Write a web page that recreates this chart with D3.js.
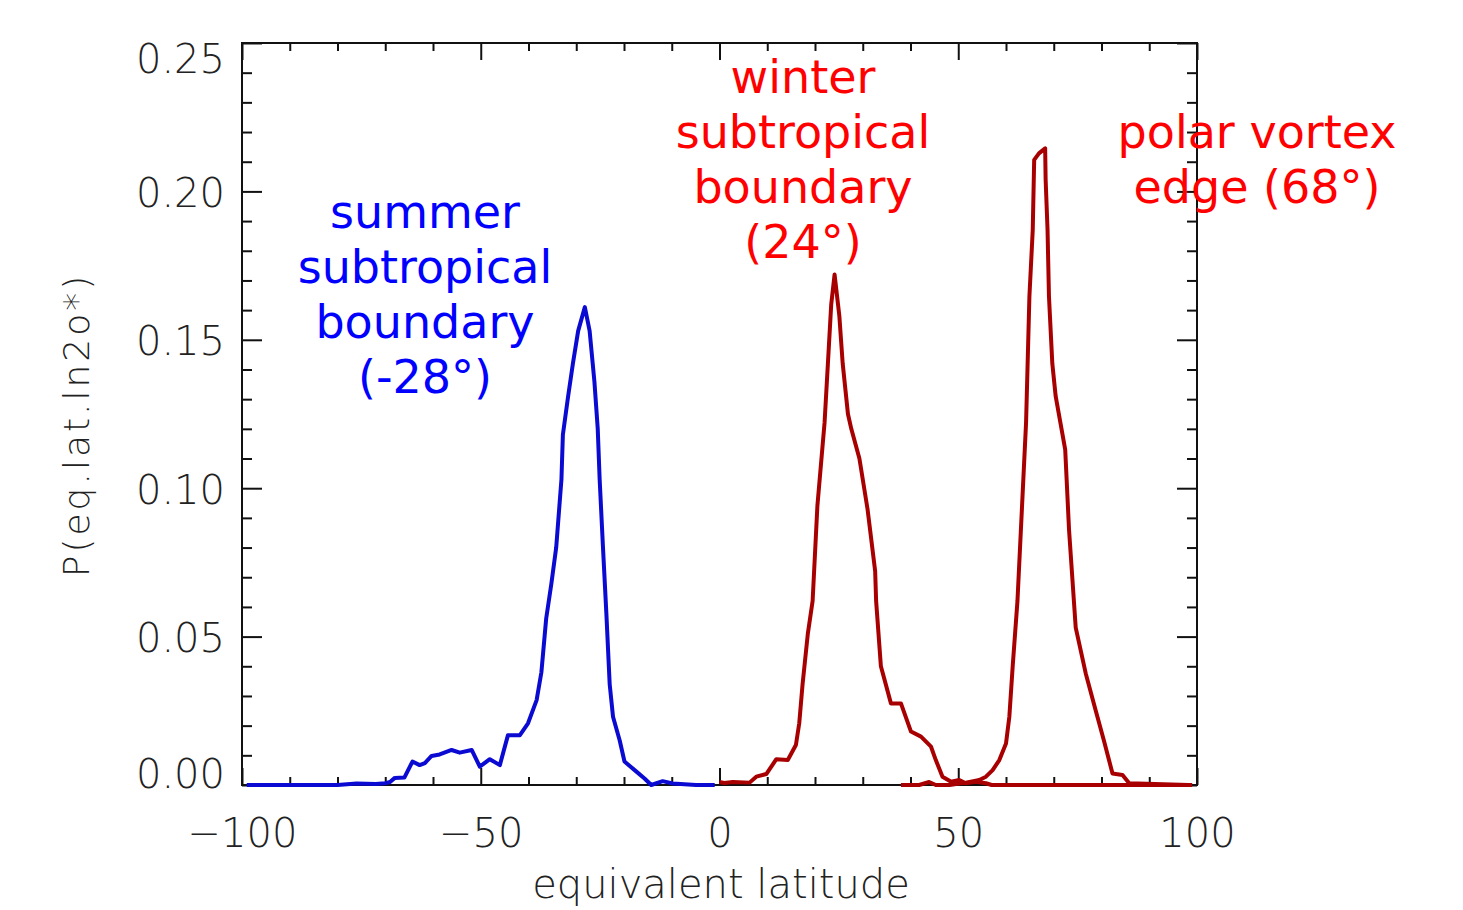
<!DOCTYPE html>
<html>
<head>
<meta charset="utf-8">
<script src="https://cdn.jsdelivr.net/npm/d3@7"></script>
<style>
  body { margin: 0; background: #fff; }
  svg { display: block; }
  .tk text { font-family: "DejaVu Sans ExtraLight", "DejaVu Sans"; font-weight: 200; fill: #222; }
  .tk line { stroke: #111; stroke-width: 2; }
</style>
</head>
<body>
<div id="chart"></div>
<script>
// summer hemisphere PDF (blue)
var blueLat = [-99, -80, -76, -72, -70, -69, -68, -66, -64.3, -62.8, -61.7, -60.3, -58.6, -56.1, -54.4, -51.9, -50.2, -48.1, -46, -44.3, -41.8, -40.1, -38.3, -37.3, -36.3, -35.2, -34.2, -33.1, -32.8, -31.7, -30.7, -29.6, -28.2, -27.2, -26.2, -25.5, -25.1, -24.4, -23.7, -23.0, -22.3, -20.9, -19.9, -17.4, -15.7, -14.3, -11.9, -9.8, -4.9, -1];
var blueP = [0, 0, 0.0005, 0.0003, 0.0006, 0.001, 0.0024, 0.0025, 0.0079, 0.0067, 0.0074, 0.0098, 0.0103, 0.0118, 0.0109, 0.0118, 0.0062, 0.0087, 0.0067, 0.0168, 0.0168, 0.0208, 0.0286, 0.038, 0.056, 0.068, 0.080, 0.103, 0.118, 0.131, 0.142, 0.153, 0.161, 0.153, 0.136, 0.120, 0.103, 0.080, 0.058, 0.034, 0.023, 0.015, 0.0079, 0.0045, 0.0022, 0, 0.0013, 0.0005, 0, 0];

// winter subtropical boundary (dark red)
var winterLat = [0, 1, 2.8, 6.3, 7.7, 9.8, 11.9, 14.3, 16.0, 16.7, 17.4, 18.5, 19.5, 20.5, 22.0, 22.7, 23.4, 24.1, 25.1, 25.8, 26.9, 27.6, 29.3, 31.0, 32.6, 32.8, 33.8, 35.9, 38.0, 40.1, 42.2, 44.3, 45.3, 46.7, 48.5, 50.2, 51.6, 53.7, 55.8, 57, 99];
var winterP = [0.001, 0.0007, 0.001, 0.0008, 0.0028, 0.0037, 0.0087, 0.0084, 0.0135, 0.0208, 0.034, 0.051, 0.062, 0.094, 0.122, 0.142, 0.162, 0.172, 0.158, 0.142, 0.125, 0.120, 0.110, 0.093, 0.072, 0.062, 0.040, 0.0275, 0.0275, 0.018, 0.0163, 0.0129, 0.0084, 0.0028, 0.0011, 0.0017, 0.0006, 0.0011, 0.0006, 0, 0];

// polar vortex edge (dark red)
var polarLat = [38, 41.8, 43.9, 45.3, 48.2, 51.6, 54.4, 55.8, 57.2, 58.6, 60.0, 60.7, 61.4, 62.4, 64.2, 64.9, 65.6, 65.9, 66.9, 68.2, 68.3, 68.7, 69.0, 69.7, 70.4, 71.4, 72.4, 73.2, 74.6, 76.7, 78.8, 80.5, 82.3, 84.4, 85.8, 98.3];
var polarP = [0, 0, 0.001, 0, 0, 0.0008, 0.0017, 0.0028, 0.005, 0.0084, 0.014, 0.023, 0.040, 0.062, 0.122, 0.1645, 0.187, 0.2106, 0.2128, 0.2145, 0.204, 0.187, 0.1645, 0.142, 0.131, 0.122, 0.113, 0.086, 0.053, 0.0376, 0.025, 0.015, 0.0039, 0.0034, 0.0006, 0];

var xMajor = [-100, -50, 0, 50, 100];
var yMajor = [0, 0.05, 0.10, 0.15, 0.20, 0.25];

var labels = [
	{lines: ["summer", "subtropical", "boundary", "(-28°)"], x: 425, y: 228, color: "#0000ff"},
	{lines: ["winter", "subtropical", "boundary", "(24°)"], x: 803, y: 93, color: "#ff0000"},
	{lines: ["polar vortex", "edge (68°)"], x: 1257, y: 148, color: "#ff0000"}
];

var W = 1463, H = 910;
var L = 242, R = 1197, T = 43, B = 785;

var svg = d3.select("#chart").append("svg").attr("width", W).attr("height", H);

var x = d3.scaleLinear().domain([-100, 100]).range([L, R]);
var y = d3.scaleLinear().domain([0, 0.25]).range([B, T]);

var xMinor = d3.range(-90, 100, 10).filter(function(v){ return v % 50 !== 0; });
var yMinor = d3.range(1, 25).filter(function(v){ return v % 5 !== 0; }).map(function(v){ return v / 100; });

function ticks(axis, tr, cls){
	var g = svg.append("g").attr("class", "tk " + (cls || "")).attr("transform", tr).call(axis);
	g.select(".domain").remove();
	return g;
}

// bottom / top
var gxb = ticks(d3.axisBottom(x).tickValues(xMajor).tickSize(-17).tickFormat(function(d){ return d < 0 ? "\u2212" + (-d) : d; }), "translate(0," + B + ")");
gxb.selectAll("text").attr("y", 0).attr("dy", 62).style("font-size", "40px");
ticks(d3.axisBottom(x).tickValues(xMinor).tickSize(-8).tickFormat(""), "translate(0," + B + ")");
ticks(d3.axisTop(x).tickValues(xMajor).tickSize(-17).tickFormat(""), "translate(0," + T + ")");
ticks(d3.axisTop(x).tickValues(xMinor).tickSize(-8).tickFormat(""), "translate(0," + T + ")");

// left / right
var gyl = ticks(d3.axisLeft(y).tickValues(yMajor).tickSize(-20).tickFormat(d3.format(".2f")), "translate(" + L + ",0)");
gyl.selectAll("text").attr("x", -17).attr("dy", function(d){
	if (d === 0.25) return 29;
	if (d === 0) return 2;
	return 15;
}).style("font-size", "40px");
ticks(d3.axisLeft(y).tickValues(yMinor).tickSize(-10).tickFormat(""), "translate(" + L + ",0)");
ticks(d3.axisRight(y).tickValues(yMajor).tickSize(-20).tickFormat(""), "translate(" + R + ",0)");
ticks(d3.axisRight(y).tickValues(yMinor).tickSize(-10).tickFormat(""), "translate(" + R + ",0)");

svg.append("rect").attr("x", L).attr("y", T).attr("width", R - L).attr("height", B - T)
	.attr("fill", "none").attr("stroke", "#111").attr("stroke-width", 2);

// curves
var line = d3.line().x(function(d){ return x(d[0]); }).y(function(d){ return y(d[1]); });
function curve(lat, p, color){
	svg.append("path").datum(d3.zip(lat, p))
		.attr("d", line).attr("fill", "none").attr("stroke", color)
		.attr("stroke-width", 4).attr("stroke-linejoin", "round");
}
curve(blueLat, blueP, "#0a0ad2");
curve(winterLat, winterP, "#a80000");
curve(polarLat, polarP, "#a80000");

// axis titles
svg.append("text").attr("class", "tk").attr("x", 721).attr("y", 898).attr("text-anchor", "middle")
	.style("font-family", "'DejaVu Sans ExtraLight', 'DejaVu Sans'").style("font-weight", 200)
	.style("font-size", "40px").attr("fill", "#222").text("equivalent latitude");
svg.append("text").attr("transform", "translate(89,425) rotate(-90)").attr("text-anchor", "middle")
	.style("font-family", "'DejaVu Sans ExtraLight', 'DejaVu Sans'").style("font-weight", 200)
	.style("font-size", "36px").style("letter-spacing", "3px").attr("fill", "#222").text("P(eq.lat.ln2o*)");

// annotations
labels.forEach(function(a){
	var t = svg.append("text").attr("text-anchor", "middle").attr("fill", a.color)
		.style("font-family", "'DejaVu Sans'").style("font-size", "46px");
	a.lines.forEach(function(s, i){
		t.append("tspan").attr("x", a.x).attr("y", a.y + i * 55).text(s);
	});
});
</script>
</body>
</html>
